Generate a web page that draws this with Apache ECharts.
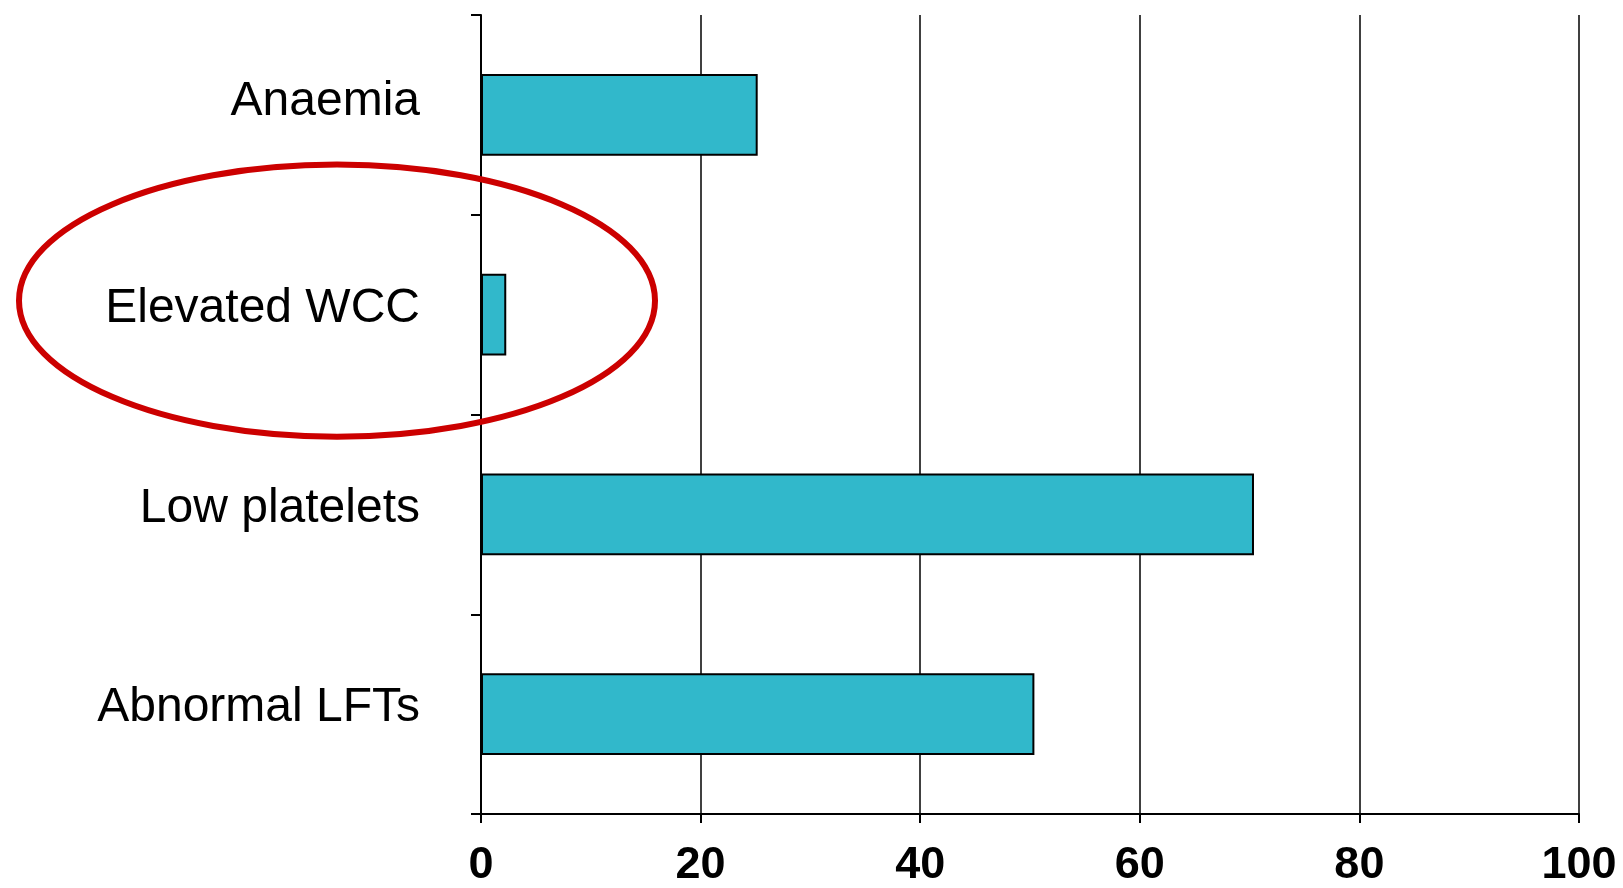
<!DOCTYPE html>
<html>
<head>
<meta charset="utf-8">
<script src="https://cdn.jsdelivr.net/npm/echarts@6/dist/echarts.min.js"></script>
<style>
html,body{margin:0;padding:0;background:#fff;}
#chart{width:1623px;height:888px;}
</style>
</head>
<body>
<div id="chart"></div>
<script>
const categories = ['Anaemia', 'Elevated WCC', 'Low platelets', 'Abnormal LFTs'];
const values = [25.2, 2.3, 70.4, 50.4];
const xTicks = [0, 20, 40, 60, 80, 100];
const highlighted = 'Elevated WCC';

const chart = echarts.init(document.getElementById('chart'));
const option = {
  animation: false,
  backgroundColor: '#ffffff',
  grid: { left: 481, right: 44, top: 15, bottom: 74, containLabel: false },
  xAxis: {
    type: 'value',
    min: xTicks[0],
    max: xTicks[xTicks.length - 1],
    interval: 20,
    axisLine: { show: true, lineStyle: { color: '#000', width: 2 } },
    axisTick: { show: true, inside: false, length: 9, lineStyle: { color: '#000', width: 2 } },
    axisLabel: {
      margin: 29,
      fontFamily: 'Liberation Sans, Arial, sans-serif',
      fontWeight: 'bold',
      fontSize: 45,
      color: '#000'
    },
    splitLine: { show: true, lineStyle: { color: '#000', width: 1.5 } }
  },
  yAxis: {
    type: 'category',
    data: categories,
    inverse: true,
    axisLine: { show: true, lineStyle: { color: '#000', width: 2 } },
    axisTick: { show: true, inside: false, length: 10, lineStyle: { color: '#000', width: 2 } },
    axisLabel: {
      margin: 61,
      fontFamily: 'Liberation Sans, Arial, sans-serif',
      fontSize: 48,
      color: '#000',
      formatter: function (v, i) {
        return i === 0 ? '{a|' + v + '}' : '{b|' + v + '}';
      },
      rich: {
        a: { fontFamily: 'Liberation Sans, Arial, sans-serif', fontSize: 48, color: '#000', padding: [0, 0, 26, 0] },
        b: { fontFamily: 'Liberation Sans, Arial, sans-serif', fontSize: 48, color: '#000', padding: [0, 0, 12, 0] }
      }
    },
    splitLine: { show: false }
  },
  series: [{
    type: 'bar',
    data: values,
    barCategoryGap: '59%',
    itemStyle: { color: '#31B8CB', borderColor: '#000', borderWidth: 2 },
    z: 3
  }]
};
chart.setOption(option);

const cy = chart.convertToPixel({ yAxisIndex: 0 }, highlighted);
chart.setOption({
  graphic: [{
    type: 'ellipse',
    z: 100,
    shape: { cx: 337, cy: cy - 14, rx: 318, ry: 136 },
    style: { fill: 'none', stroke: '#CC0000', lineWidth: 6 }
  }]
});
</script>
</body>
</html>
